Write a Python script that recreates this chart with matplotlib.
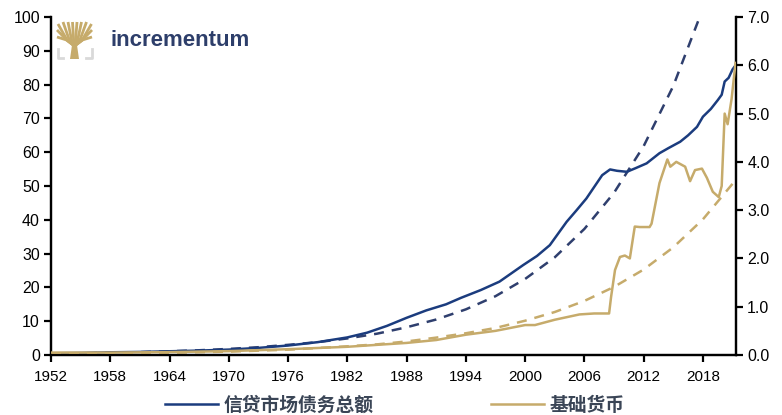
import numpy as np
import matplotlib
matplotlib.use("Agg")
import matplotlib.pyplot as plt
from matplotlib.lines import Line2D
from matplotlib.patches import Polygon

# credit market debt (left axis)
debt_years = [1952, 1955, 1958, 1961, 1964, 1967, 1970, 1973, 1976, 1979, 1982, 1984,
              1986, 1988, 1990, 1992, 1993.5, 1995.5, 1997.4, 1999.8, 2001.2, 2002.5,
              2004.2, 2005.2, 2006.2, 2007.8, 2008.6, 2009.3, 2010.3, 2011.2, 2012.3,
              2013.6, 2014.5, 2015.7, 2016.5, 2017.4, 2018.0, 2018.8, 2019.5, 2019.9,
              2020.2, 2020.6, 2021.0, 2021.3]
debt_values = [0.5, 0.6, 0.8, 0.9, 1.1, 1.3, 1.6, 2.1, 2.8, 3.8, 5.2, 6.6,
               8.6, 11.0, 13.2, 15.0, 16.9, 19.2, 21.7, 26.6, 29.3, 32.5,
               39.4, 42.8, 46.3, 53.2, 54.9, 54.5, 54.2, 55.3, 56.7,
               59.7, 61.2, 63.1, 65.0, 67.5, 70.5, 72.8, 75.4, 77.0,
               80.9, 82.0, 84.5, 85.7]

# exponential trend of the debt series
debt_trend_years = [1952, 1955, 1958, 1961, 1964, 1967, 1970, 1973, 1976, 1979, 1982,
                    1985, 1988, 1991, 1994, 1997, 2000, 2003, 2006, 2009, 2012, 2015, 2018]
debt_trend_values = [0.4, 0.5, 0.65, 0.84, 1.1, 1.4, 1.8, 2.3, 3.0, 3.8, 4.9,
                     6.3, 8.2, 10.5, 13.5, 17.4, 22.5, 28.9, 37.3, 48.0, 61.8, 79.6, 102.5]

# monetary base (right axis)
base_years = [1952, 1958, 1964, 1970, 1976, 1982, 1985, 1988, 1991, 1994, 1997, 1999.5,
              2000, 2001, 2003, 2005.5, 2007, 2008.5, 2008.7, 2009.1, 2009.6, 2010.1,
              2010.6, 2011.1, 2011.6, 2012.6, 2012.8, 2013.6, 2014.4, 2014.7, 2015.3,
              2016.2, 2016.7, 2017.2, 2017.9, 2018.4, 2019.0, 2019.6, 2019.9, 2020.2,
              2020.5, 2020.9, 2021.3]
base_values = [0.05, 0.05, 0.06, 0.08, 0.12, 0.17, 0.21, 0.25, 0.31, 0.42, 0.5, 0.6,
               0.62, 0.62, 0.73, 0.84, 0.86, 0.86, 1.2, 1.76, 2.03, 2.06,
               2.0, 2.66, 2.65, 2.65, 2.72, 3.56, 4.05, 3.9, 4.0,
               3.9, 3.6, 3.83, 3.86, 3.67, 3.38, 3.27, 3.5, 5.0,
               4.78, 5.3, 6.05]

# exponential trend of the monetary base
base_trend_years = [1952, 1958, 1964, 1970, 1976, 1982, 1985, 1988, 1991, 1994, 1997,
                    2000, 2003, 2006, 2009, 2012, 2015, 2018, 2021.3]
base_trend_values = [0.02, 0.03, 0.045, 0.07, 0.11, 0.18, 0.22, 0.28, 0.36, 0.45, 0.56,
                     0.71, 0.89, 1.12, 1.41, 1.77, 2.23, 2.81, 3.62]

year_ticks = list(range(1952, 2019, 6))

BLUE = "#1b3c7e"
BLUE_DASH = "#2f3f6e"
GOLD = "#c6ab6b"

plt.rcParams["font.family"] = ["Liberation Sans", "DejaVu Sans"]

fig = plt.figure(figsize=(7.82, 4.15), dpi=100)
ax = fig.add_axes([0.0652, 0.1446, 0.876, 0.8144])
ax2 = ax.twinx()

ax.plot(debt_years, debt_values, color=BLUE, lw=1.8, zorder=3)
ax.plot(debt_trend_years, debt_trend_values, color=BLUE_DASH, lw=1.8,
        dashes=(4, 3.2), zorder=2)
ax2.plot(base_years, base_values, color=GOLD, lw=1.8, zorder=3)
ax2.plot(base_trend_years, base_trend_values, color=GOLD, lw=1.8,
         dashes=(4, 3.2), zorder=2)

ax.set_xlim(1952, 2021.35)
ax.set_ylim(0, 100)
ax2.set_ylim(0, 7)
ax.set_xticks(year_ticks)
ax.set_yticks(range(0, 101, 10))
ax2.set_yticks(np.arange(0, 7.01, 1.0))
ax2.set_yticklabels([f"{v:.1f}" for v in np.arange(0, 7.01, 1.0)])

for a in (ax, ax2):
    a.spines["top"].set_visible(False)
    for s in a.spines.values():
        s.set_linewidth(1.6)
        s.set_color("black")
    a.tick_params(direction="out", length=5, width=1.6, labelsize=11.5, pad=3)
ax.tick_params(axis="x", labelsize=11, pad=6)

# legend below the chart
handles = [Line2D([], [], color=BLUE, lw=1.8), Line2D([], [], color=GOLD, lw=1.8)]
fig.legend(handles, ["信贷市场债务总额", "基础货币"], loc="lower center",
           bbox_to_anchor=(0.505, -0.04), ncol=2, frameon=False, handlelength=2.8,
           columnspacing=6.3, handletextpad=0.3,
           prop={"family": ["Noto Sans CJK SC", "DejaVu Sans"], "weight": "bold", "size": 13.5},
           labelcolor="#3a4556")

# logo: small tree and wordmark, drawn in pixel units
logo = fig.add_axes([55 / 782, 1 - 60 / 415, 40 / 782, 40 / 415])
logo.set_xlim(55, 95)
logo.set_ylim(60, 20)
logo.axis("off")
logo.add_patch(Polygon([[70, 59], [79, 59], [77, 45], [72, 45]], closed=True, color=GOLD, lw=0))
tips = [(57, 37), (57, 30), (58, 24), (63, 22), (68, 22), (72.5, 22), (77, 22),
        (81.5, 22), (86.5, 22), (91.5, 24), (92, 30), (92, 37)]
for tx, ty in tips:
    mx = 74.5 + (tx - 74.5) * 0.45
    my = 40
    logo.plot([74.5, mx, tx], [46, my, ty], color=GOLD, lw=2.0,
              solid_capstyle="butt", solid_joinstyle="round")
logo.plot([57.5, 57.5, 63], [49, 58.5, 58.5], color="#d9d9d9", lw=2)
logo.plot([91.5, 91.5, 86], [49, 58.5, 58.5], color="#d9d9d9", lw=2)

fig.text(110 / 782, 1 - 41 / 415, "incrementum", color="#2d3e6a", fontsize=16,
         fontweight="bold", va="center", ha="left")

fig.savefig("out.png", dpi=100)
